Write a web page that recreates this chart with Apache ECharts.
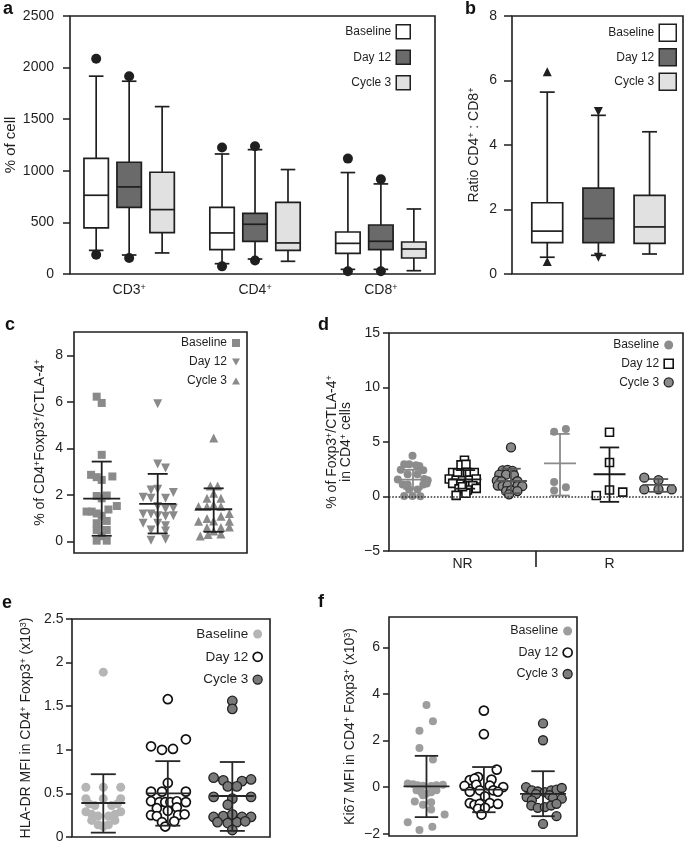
<!DOCTYPE html>
<html><head><meta charset="utf-8">
<script src="https://cdn.jsdelivr.net/npm/echarts@6/dist/echarts.min.js"></script>
<style>html,body{margin:0;padding:0;background:#fff}#c{width:685px;height:843px}</style>
</head><body><div id="c"></div>
<script>
const FONT = '"Liberation Sans", Arial, Helvetica, sans-serif';
const INK = '#1f1f1f';

// ---------- Panel a : % of cell (box plots) ----------
const cellCats = ['CD3', 'CD4', 'CD8'];
// [whisker low, Q1, median, Q3, whisker high]
const cellBaseline = [[229, 446, 763, 1121, 1917], [100, 236, 398, 646, 1163], [45, 200, 297, 407, 983]];
const cellDay12 = [[184, 646, 844, 1083, 1868], [145, 317, 482, 588, 1205], [45, 236, 317, 475, 873]];
const cellCycle3 = [[204, 401, 624, 986, 1622], [123, 229, 301, 695, 1012], [32, 155, 242, 310, 630]];
// [category index, value]
const cellOutBaseline = [[0, 2085], [0, 187], [1, 1225], [1, 74], [2, 1118], [2, 26]];
const cellOutDay12 = [[0, 1917], [0, 155], [1, 1238], [1, 130], [2, 918], [2, 26]];

// ---------- Panel b : ratio CD4:CD8 ----------
const ratioBaseline = [0.52, 0.97, 1.33, 2.21, 5.64];
const ratioDay12 = [0.58, 0.97, 1.72, 2.66, 4.92];
const ratioCycle3 = [0.62, 0.95, 1.46, 2.44, 4.41];
const ratioOutBaseline = [6.27, 0.39];
const ratioOutDay12 = [5.04, 0.52];

// ---------- Panel c : % of CD4+Foxp3+/CTLA-4+ ----------
const cBaseline = [[0.91,6.22],[1.0,5.95],[1.0,3.72],[0.81,2.86],[0.91,2.76],[1.0,2.64],[1.19,2.79],[0.91,1.95],[1.09,1.97],[1.0,1.85],[1.27,1.52],[0.73,1.28],[0.82,1.28],[1.12,1.37],[0.91,1.2],[1.0,1.1],[0.91,0.78],[1.09,0.88],[0.91,0.49],[1.09,0.49],[1.0,0.22],[0.91,0.03],[1.09,0.03]];
const cDay12 = [[2.0,5.92],[2.0,3.33],[2.14,3.15],[1.88,2.21],[2.0,2.24],[2.28,2.1],[1.74,1.9],[1.88,1.85],[2.14,1.85],[2.0,1.5],[2.28,1.42],[2.14,1.4],[1.74,1.18],[1.88,1.18],[2.0,1.1],[2.14,1.08],[2.28,1.1],[1.74,0.78],[2.0,0.78],[2.14,0.67],[1.88,0.49],[2.14,0.45],[1.88,0.05],[2.14,0.09]];
const cCycle3 = [[3.0,4.44],[2.94,2.38],[3.07,2.38],[3.0,2.07],[2.88,1.85],[3.13,1.85],[3.0,1.57],[2.73,1.5],[2.88,1.5],[3.13,1.5],[3.28,1.2],[2.73,0.87],[2.88,0.98],[3.0,0.88],[3.13,1.08],[3.28,0.87],[2.88,0.6],[3.13,0.6],[3.28,0.62],[3.0,0.45],[2.76,0.23],[2.9,0.3],[3.13,0.32]];
// [group x, mean, low, high]
const cStats = [[1, 1.84, 0.24, 3.43], [2, 1.61, 0.34, 2.9], [3, 1.38, 0.41, 2.28]];

// ---------- Panel d : NR vs R ----------
const dRegionLabels = ['NR', 'R'];
const dBaseline = [[0.98,3.73],[0.81,2.96],[0.91,2.96],[1.05,2.87],[1.12,2.8],[0.74,2.45],[1.2,2.4],[0.88,2.04],[1.08,2.04],[0.68,1.55],[1.22,1.6],[1.29,1.5],[0.78,1.1],[0.88,1.1],[1.2,1.1],[1.27,1.2],[0.91,0.65],[1.08,0.65],[0.81,0.05],[0.98,0.05],[1.14,0.02],
  [3.87,5.95],[4.11,6.2],[3.87,1.32],[4.11,0.86],[3.87,0.56]];
const dDay12 = [[2.04,3.33],[1.97,2.9],[2.07,2.95],[1.8,2.2],[1.9,2.15],[2.1,2.2],[2.24,2.2],[1.73,1.6],[1.87,1.5],[2.0,1.45],[2.14,1.5],[2.28,1.6],[1.8,1.2],[1.97,1.15],[2.1,1.0],[2.21,1.0],[1.93,0.7],[2.1,0.6],[1.87,0.1],[2.07,0.3],[2.0,0.9],[2.28,0.75],
  [5.0,5.9],[5.0,3.12],[5.0,0.6],[4.73,0.09],[5.27,0.4]];
const dCycle3 = [[2.99,4.5],[2.82,2.4],[2.92,2.45],[3.02,2.35],[2.75,2.0],[2.89,2.0],[3.05,1.95],[2.7,1.45],[2.79,1.4],[3.12,1.4],[2.72,1.0],[2.82,0.95],[2.92,1.0],[3.12,0.95],[3.22,0.95],[2.89,0.5],[2.99,0.55],[3.12,0.5],[2.95,0.2],
  [5.71,1.73],[6.0,1.51],[5.71,0.65],[6.0,0.65],[6.27,0.65]];
const dStatBaseline = [[0.99, 1.55, 0.7, 2.45], [3.99, 3.03, 0.09, 5.74]];
const dStatDay12 = [[2.06, 1.57, 0.72, 2.42], [5.0, 2.04, -0.49, 4.5]];
const dStatCycle3 = [[2.99, 1.42, 0.3, 2.55], [6.0, 1.06, 0.43, 1.6]];

// ---------- Panel e : HLA-DR MFI ----------
const eBaseline = [[1.0,1.89],[0.73,0.57],[1.0,0.57],[1.27,0.57],[0.73,0.44],[1.0,0.44],[1.27,0.44],[0.78,0.38],[0.87,0.36],[1.13,0.36],[1.22,0.38],[0.73,0.29],[0.82,0.26],[0.92,0.24],[1.08,0.24],[1.18,0.26],[1.27,0.29],[0.82,0.19],[1.18,0.19],[0.92,0.14],[1.0,0.12],[1.08,0.14]];
const eDay12 = [[2.0,1.58],[2.28,1.12],[1.74,1.04],[1.91,1.0],[2.08,1.01],[2.0,0.62],[1.74,0.52],[1.91,0.52],[2.28,0.52],[1.74,0.41],[1.87,0.4],[1.96,0.4],[2.04,0.4],[2.14,0.41],[2.28,0.4],[1.83,0.33],[2.14,0.34],[1.74,0.25],[1.83,0.24],[2.16,0.25],[2.26,0.26],[1.91,0.17],[2.1,0.18],[1.96,0.12],[2.0,0.3]];
const eCycle3 = [[3.0,1.56],[3.0,1.47],[2.71,0.68],[2.86,0.65],[3.15,0.64],[3.29,0.66],[2.93,0.58],[3.07,0.58],[2.71,0.46],[3.29,0.46],[3.0,0.44],[2.93,0.37],[2.71,0.23],[2.86,0.24],[3.15,0.23],[3.29,0.23],[2.77,0.17],[2.93,0.16],[3.07,0.17],[3.2,0.18],[3.0,0.08],[3.0,0.26]];
const eStats = [[1, 0.39, 0.05, 0.72], [2, 0.5, 0.13, 0.87], [3, 0.47, 0.07, 0.86]];

// ---------- Panel f : Ki67 MFI ----------
const fBaseline = [[1.0,3.52],[1.11,2.83],[0.88,2.42],[0.88,1.68],[1.11,1.18],[0.68,0.15],[0.77,0.12],[0.85,0.08],[0.94,0.06],[1.08,0.05],[1.17,0.08],[1.28,0.1],[0.83,-0.14],[0.91,-0.22],[1.0,-0.28],[1.08,-0.22],[1.17,-0.14],[0.94,-0.35],[0.8,-0.62],[0.94,-0.76],[1.08,-0.65],[1.08,-0.96],[1.31,-1.18],[0.68,-1.51],[1.1,-1.7],[0.88,-1.84]];
const fDay12 = [[1.98,3.28],[1.98,2.27],[2.2,0.75],[1.88,0.43],[1.74,0.3],[1.82,0.36],[2.11,0.32],[1.65,0.05],[1.85,0.1],[2.08,0.06],[2.31,0.0],[1.74,-0.2],[1.91,-0.14],[2.14,-0.14],[2.22,-0.2],[2.0,-0.4],[1.74,-0.69],[1.82,-0.76],[1.91,-0.72],[2.08,-0.69],[2.22,-0.72],[1.88,-0.93],[2.0,-0.89],[1.94,-1.18]];
const fCycle3 = [[2.99,2.73],[2.99,2.01],[2.7,0.0],[2.8,-0.14],[2.9,-0.19],[3.02,-0.22],[3.13,-0.14],[3.22,-0.11],[3.31,-0.04],[2.87,-0.3],[3.1,-0.35],[2.71,-0.43],[2.8,-0.57],[3.16,-0.46],[3.31,-0.5],[2.79,-0.79],[2.9,-0.89],[3.02,-0.86],[3.13,-0.79],[3.22,-0.72],[3.22,-1.25],[2.99,-1.58]];
const fStats = [[1.0, 0.03, -1.29, 1.34], [1.98, -0.11, -1.08, 0.86], [2.99, -0.29, -1.25, 0.68]];

const names = ['Baseline', 'Day 12', 'Cycle 3'];

// ---------- rendering helpers ----------
const boxFills = ['#ffffff', '#6a6a6a', '#e1e1e1'];
const boxOffsets = [-0.262, 0, 0.262];

function boxRender(fill, halfW, capW) {
  return function (params, api) {
    const x = api.value(0);
    const p = [1, 2, 3, 4, 5].map(d => api.coord([x, api.value(d)]));
    const hw = api.size([halfW, 0])[0];
    const cw = api.size([capW, 0])[0];
    const cx = p[0][0];
    const ls = { stroke: INK, lineWidth: 1.7 };
    return { type: 'group', children: [
      { type: 'line', shape: { x1: cx, y1: p[4][1], x2: cx, y2: p[3][1] }, style: ls },
      { type: 'line', shape: { x1: cx, y1: p[1][1], x2: cx, y2: p[0][1] }, style: ls },
      { type: 'line', shape: { x1: cx - cw, y1: p[4][1], x2: cx + cw, y2: p[4][1] }, style: ls },
      { type: 'line', shape: { x1: cx - cw, y1: p[0][1], x2: cx + cw, y2: p[0][1] }, style: ls },
      { type: 'rect', shape: { x: cx - hw, y: p[3][1], width: 2 * hw, height: p[1][1] - p[3][1] }, style: { fill: fill, stroke: INK, lineWidth: 1.7 } },
      { type: 'line', shape: { x1: cx - hw, y1: p[2][1], x2: cx + hw, y2: p[2][1] }, style: ls }
    ] };
  };
}
function errRender(color, meanHalf, capHalf, lw) {
  return function (params, api) {
    const x = api.value(0);
    const m = api.coord([x, api.value(1)]);
    const lo = api.coord([x, api.value(2)]);
    const hi = api.coord([x, api.value(3)]);
    const st = { stroke: color, lineWidth: lw };
    return { type: 'group', children: [
      { type: 'line', shape: { x1: m[0], y1: hi[1], x2: m[0], y2: lo[1] }, style: st },
      { type: 'line', shape: { x1: m[0] - meanHalf, y1: m[1], x2: m[0] + meanHalf, y2: m[1] }, style: st },
      { type: 'line', shape: { x1: m[0] - capHalf, y1: hi[1], x2: m[0] + capHalf, y2: hi[1] }, style: st },
      { type: 'line', shape: { x1: m[0] - capHalf, y1: lo[1], x2: m[0] + capHalf, y2: lo[1] }, style: st }
    ] };
  };
}
function custom(name, gi, data, render, z) {
  return { type: 'custom', name: name, xAxisIndex: gi, yAxisIndex: gi, data: data, renderItem: render, z: z || 2, silent: true, animation: false };
}
function scat(name, gi, data, sym, size, color, border, bw, rot) {
  return { type: 'scatter', name: name, xAxisIndex: gi, yAxisIndex: gi, data: data, symbol: sym, symbolSize: size,
    symbolRotate: rot || 0, itemStyle: { color: color, borderColor: border || color, borderWidth: bw || 0, opacity: 1 },
    emphasis: { disabled: true }, silent: true, z: 3, animation: false };
}

const series = [];
// panel a
[cellBaseline, cellDay12, cellCycle3].forEach((arr, s) => {
  series.push(custom(names[s], 0, arr.map((b, i) => [i + 1 + boxOffsets[s]].concat(b)), boxRender(boxFills[s], 0.097, 0.058)));
});
series.push(scat('Baseline', 0, cellOutBaseline.map(o => [o[0] + 1 + boxOffsets[0], o[1]]), 'circle', 10, INK));
series.push(scat('Day 12', 0, cellOutDay12.map(o => [o[0] + 1 + boxOffsets[1], o[1]]), 'circle', 10, INK));
// panel b
[ratioBaseline, ratioDay12, ratioCycle3].forEach((b, s) => {
  series.push(custom(names[s], 1, [[s + 1].concat(b)], boxRender(boxFills[s], 0.302, 0.146)));
});
series.push(scat('Baseline', 1, ratioOutBaseline.map(v => [1, v]), 'triangle', 9, INK));
series.push(scat('Day 12', 1, ratioOutDay12.map(v => [2, v]), 'triangle', 9, INK, null, 0, 180));
// panel c
const cGray = '#8a8a8a';
series.push(scat('Baseline', 2, cBaseline, 'rect', 8, cGray));
series.push(scat('Day 12', 2, cDay12, 'triangle', 9, cGray, null, 0, 180));
series.push(scat('Cycle 3', 2, cCycle3, 'triangle', 9, cGray));
series.push(custom('sd', 2, cStats, errRender(INK, 18.5, 10, 1.8), 4));
// panel d
const dBase = scat('Baseline', 3, dBaseline, 'circle', 8, '#8c8c8c');
series.push(dBase);
const dD12 = scat('Day 12', 3, dDay12, 'rect', 8, '#ffffff', '#111', 1.6);
dD12.markLine = { silent: true, symbol: 'none', label: { show: false }, animation: false,
  lineStyle: { type: 'dotted', color: '#333', width: 1.6 }, data: [{ yAxis: 0 }] };
series.push(dD12);
series.push(scat('Cycle 3', 3, dCycle3, 'circle', 9, '#8a8a8a', '#222', 1.3));
series.push(custom('sd', 3, dStatBaseline, errRender('#8a8a8a', 16, 9.7, 1.8), 4));
series.push(custom('sd', 3, dStatDay12, errRender('#1a1a1a', 16, 9.7, 1.8), 4));
series.push(custom('sd', 3, dStatCycle3, errRender('#555555', 16, 9.7, 1.8), 4));
// panel e
series.push(scat('Baseline', 4, eBaseline, 'circle', 9, '#b5b5b5'));
series.push(scat('Day 12', 4, eDay12, 'circle', 9, '#ffffff', '#111', 1.7));
series.push(scat('Cycle 3', 4, eCycle3, 'circle', 9.5, '#7a7a7a', '#222', 1.3));
series.push(custom('sd', 4, eStats, errRender('#262626', 22, 12.5, 1.8), 4));
// panel f
series.push(scat('Baseline', 5, fBaseline, 'circle', 8, '#9d9d9d'));
series.push(scat('Day 12', 5, fDay12, 'circle', 9, '#ffffff', '#111', 1.7));
series.push(scat('Cycle 3', 5, fCycle3, 'circle', 9, '#7d7d7d', '#222', 1.3));
series.push(custom('sd', 5, fStats, errRender('#262626', 23, 11.7, 1.8), 4));

// ---------- axes ----------
const gridRects = [
  { left: 70, top: 16, width: 365, height: 258 },
  { left: 512, top: 16, width: 171, height: 258 },
  { left: 74, top: 332, width: 173, height: 221 },
  { left: 389, top: 333, width: 294, height: 218 },
  { left: 72, top: 619, width: 198, height: 218 },
  { left: 389, top: 617, width: 188, height: 219 }
];
const grid = gridRects.map(g => Object.assign({ show: true, borderColor: INK, borderWidth: 1.6, backgroundColor: 'transparent', containLabel: false, outerBoundsMode: 'none' }, g));

const richName = { t: { fontSize: 14, fontFamily: FONT, color: INK }, s: { fontSize: 9, fontFamily: FONT, color: INK, verticalAlign: 'top' } };
const minus = v => String(v).replace('-', '\u2212');

function xAx(gi, min, max, extra) {
  return Object.assign({ type: 'value', gridIndex: gi, min: min, max: max, axisLine: { show: false, onZero: false }, axisTick: { show: false },
    axisLabel: { show: false }, splitLine: { show: false } }, extra || {});
}
function yAx(gi, min, max, tickLen, margin, extra) {
  return Object.assign({ type: 'value', gridIndex: gi, min: min, max: max, splitLine: { show: false }, axisLine: { show: false, onZero: false },
    axisTick: { show: true, length: tickLen, lineStyle: { color: INK, width: 1.5 } },
    axisLabel: { fontSize: 14, fontFamily: FONT, color: INK, margin: margin, formatter: minus },
    nameLocation: 'middle', nameRotate: 90, nameMoveOverlap: false,
    nameTextStyle: { fontSize: 14, fontFamily: FONT, color: INK, rich: richName } }, extra || {});
}

const xAxis = [
  xAx(0, 0.53, 3.43, { axisLabel: { show: true, customValues: [1, 2, 3], margin: 9,
    formatter: v => '{m|' + cellCats[Math.round(v) - 1] + '}{s|+}',
    rich: { m: { fontSize: 14, fontFamily: FONT, color: INK }, s: { fontSize: 9, fontFamily: FONT, color: INK, verticalAlign: 'top' } } } }),
  xAx(1, 0.311, 3.654),
  xAx(2, 0.505, 3.595),
  xAx(3, 0.5, 6.5, { axisTick: { show: true, customValues: [3.5], length: 16, lineStyle: { color: INK, width: 1.6 } },
    axisLabel: { show: true, customValues: [2, 5], margin: 6, fontSize: 14, fontFamily: FONT, color: INK,
      formatter: v => dRegionLabels[v < 3.5 ? 0 : 1] } }),
  xAx(4, 0.515, 3.584),
  xAx(5, 0.36, 3.57)
];
const yAxis = [
  yAx(0, 0, 2500, 7, 16, { interval: 500, name: '% of cell', nameGap: 52, nameTextStyle: { fontSize: 15, fontFamily: FONT, color: INK } }),
  yAx(1, 0, 8, 8, 15, { interval: 2, name: '{t|Ratio CD4}{s|+}{t| : CD8}{s|+}', nameGap: 31 }),
  yAx(2, -0.5, 9, 7, 11, { axisTick: { show: true, length: 7, customValues: [0, 2, 4, 6, 8], lineStyle: { color: INK, width: 1.5 } },
    axisLabel: { fontSize: 14, fontFamily: FONT, color: INK, margin: 11, customValues: [0, 2, 4, 6, 8] },
    name: '{t|% of CD4}{s|+}{t|Foxp3}{s|+}{t|/CTLA-4}{s|+}', nameGap: 27 }),
  yAx(3, -5, 15, 6, 9, { interval: 5, name: '{t|% of Foxp3}{s|+}{t|/CTLA-4}{s|+}\n{t|in CD4}{s|+}{t| cells}', nameGap: 36 }),
  yAx(4, 0, 2.5, 6, 8.5, { interval: 0.5, name: '{t|HLA-DR MFI in CD4}{s|+}{t| Foxp3}{s|+}{t| (x10}{s|3}{t|)}', nameGap: 39 }),
  yAx(5, -2.1, 7.3, 6, 9, { axisTick: { show: true, length: 6, customValues: [-2, 0, 2, 4, 6], lineStyle: { color: INK, width: 1.5 } },
    axisLabel: { fontSize: 14, fontFamily: FONT, color: INK, margin: 9, customValues: [-2, 0, 2, 4, 6], formatter: minus },
    name: '{t|Ki67 MFI in CD4}{s|+}{t| Foxp3}{s|+}{t| (x10}{s|3}{t|)}', nameGap: 32 })
];

// ---------- legends ----------
function legend(pos, size, gap, fontSize, items) {
  return Object.assign({ orient: 'vertical', align: 'right', padding: 0, itemGap: gap, itemWidth: size, itemHeight: size,
    selectedMode: false, textStyle: { fontSize: fontSize, fontFamily: FONT, color: INK }, data: items }, pos);
}
const boxLegendItems = names.map((n, i) => ({ name: n, icon: 'rect', itemStyle: { color: boxFills[i], borderColor: INK, borderWidth: 1.5 } }));
const legends = [
  legend({ right: 274, top: 24 }, 14, 10, 12, boxLegendItems),
  legend({ right: 8, top: 23.5 }, 17, 6, 12, boxLegendItems),
  legend({ right: 445, top: 337 }, 8, 7, 12, [
    { name: 'Baseline', icon: 'rect', itemStyle: { color: cGray, borderWidth: 0 } },
    { name: 'Day 12', icon: 'path://M0,0L10,0L5,9Z', itemStyle: { color: cGray, borderWidth: 0 } },
    { name: 'Cycle 3', icon: 'path://M5,0L10,9L0,9Z', itemStyle: { color: cGray, borderWidth: 0 } }]),
  legend({ right: 11, top: 339 }, 9, 6.7, 12, [
    { name: 'Baseline', icon: 'circle', itemStyle: { color: '#8c8c8c', borderWidth: 0 } },
    { name: 'Day 12', icon: 'rect', itemStyle: { color: '#ffffff', borderColor: '#111', borderWidth: 1.6 } },
    { name: 'Cycle 3', icon: 'circle', itemStyle: { color: '#8a8a8a', borderColor: '#222', borderWidth: 1.3 } }]),
  legend({ right: 422, top: 627 }, 9, 8.8, 13.5, [
    { name: 'Baseline', icon: 'circle', itemStyle: { color: '#b5b5b5', borderWidth: 0 } },
    { name: 'Day 12', icon: 'circle', itemStyle: { color: '#ffffff', borderColor: '#111', borderWidth: 1.7 } },
    { name: 'Cycle 3', icon: 'circle', itemStyle: { color: '#7a7a7a', borderColor: '#222', borderWidth: 1.3 } }]),
  legend({ right: 112, top: 624.5 }, 9, 8.5, 12.5, [
    { name: 'Baseline', icon: 'circle', itemStyle: { color: '#9d9d9d', borderWidth: 0 } },
    { name: 'Day 12', icon: 'circle', itemStyle: { color: '#ffffff', borderColor: '#111', borderWidth: 1.7 } },
    { name: 'Cycle 3', icon: 'circle', itemStyle: { color: '#7d7d7d', borderColor: '#222', borderWidth: 1.3 } }])
];

// ---------- panel letters ----------
const letterFont = 'bold 18px ' + FONT;
const letters = [['a', 3, 0], ['b', 465, 0], ['c', 5, 316], ['d', 318, 316], ['e', 2, 594], ['f', 318, 593]];
const graphic = letters.map(l => ({ type: 'text', left: l[1], top: l[2], silent: true, style: { text: l[0], font: letterFont, fill: '#111' } }));

const chart = echarts.init(document.getElementById('c'), null, { renderer: 'canvas' });
chart.setOption({
  animation: false,
  backgroundColor: '#ffffff',
  textStyle: { fontFamily: FONT },
  grid: grid, xAxis: xAxis, yAxis: yAxis, legend: legends, graphic: graphic, series: series
});
</script></body></html>
